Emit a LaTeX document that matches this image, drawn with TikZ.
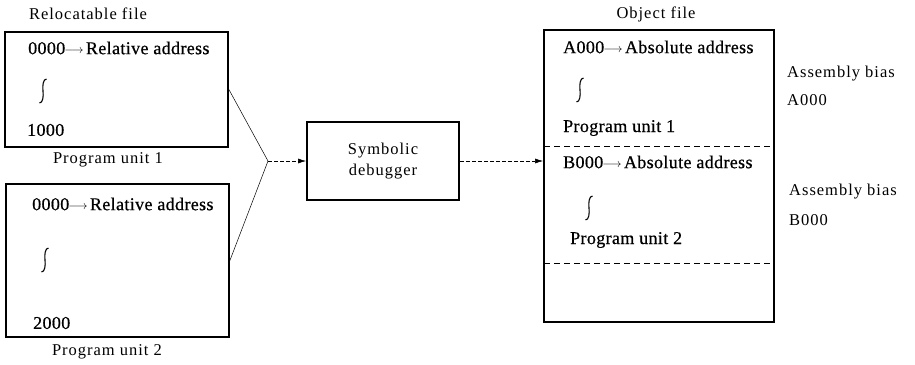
\documentclass[tikz,border=0pt]{standalone}
\usepackage{fontspec}
\setmainfont{Liberation Serif}
\newfontfamily\spacedfont[LetterSpace=6]{Liberation Serif}
\newfontfamily\heavyfont[FakeBold=0.6,LetterSpace=2]{Liberation Serif}
\usetikzlibrary{arrows.meta,calc}

\tikzset{
  filebox/.style={draw, line width=1.8pt, rectangle, inner sep=0pt},
  boxtext/.style={anchor=west, inner sep=0pt, font=\heavyfont\fontsize{18}{20}\selectfont},
  label/.style={inner sep=0pt, font=\spacedfont\fontsize{16.5}{19}\selectfont},
  link/.style={line width=0.5pt},
  flow/.style={line width=0.6pt, dash pattern=on 4pt off 2pt,
               -{Latex[length=8pt,width=5pt]}},
  divider/.style={line width=0.9pt, dash pattern=on 6pt off 4pt},
  squiggle/.style={line width=1.1pt},
}

% short arrow between an address and its meaning
\newcommand{\addrarrow}{\raisebox{0.5pt}{$\mkern-1mu\scriptstyle\longrightarrow\mkern-1mu$}\,}

% a thin upright integral-like mark meaning "and so on"
\newcommand{\skipmark}[1]{%
  \draw[squiggle] ($(#1)+(3.5,-12)$) .. controls ($(#1)+(0,-12)$) and ($(#1)+(-0.6,-5)$) .. (#1)
    .. controls ($(#1)+(0.6,5)$) and ($(#1)+(0,12)$) .. ($(#1)+(-3.5,12)$);}

\begin{document}
\begin{tikzpicture}[x=1pt, y=-1pt]
\path[use as bounding box] (0,0) rectangle (915,364);

% relocatable program units
\node[filebox, minimum width=223pt, minimum height=115pt] (unitA) at (116.5,89.5) {};
\node[filebox, minimum width=223pt, minimum height=153pt] (unitB) at (117.5,260.5) {};
\node[label] (relTitle) at (88,14) {Relocatable file};
\node[label] (unitAname) at (108,160) {Program unit 1};
\node[label] (unitBname) at (107,352) {Program unit 2};

\node[boxtext] (relA) at (28,48) {0000\addrarrow Relative address};
\coordinate (sqA) at (43,91);
\skipmark{sqA}
\node[boxtext] (endA) at (27,130) {1000};

\node[boxtext] (relB) at (32,204) {0000\addrarrow Relative address};
\coordinate (sqB) at (45,260);
\skipmark{sqB}
\node[boxtext] (endB) at (33,323) {2000};

% debugger
\node[filebox, minimum width=152pt, minimum height=78pt, align=center,
      font=\spacedfont\fontsize{16.5}{21}\selectfont] (dbg) at (383,161)
      {Symbolic\\debugger};

% object file
\node[filebox, minimum width=230pt, minimum height=292pt] (obj) at (659,176) {};
\node[label] (objTitle) at (656,14) {Object file};
\coordinate (divA) at (544,146);
\coordinate (divB) at (544,263);
\draw[divider] (divA) -- (divA -| obj.east);
\draw[divider] (divB) -- (divB -| obj.east);

\node[boxtext] (absA) at (563,47) {A000\addrarrow Absolute address};
\coordinate (sqC) at (580,90);
\skipmark{sqC}
\node[boxtext] (progA) at (563,128) {Program unit 1};

\node[boxtext] (absB) at (563,162) {B000\addrarrow Absolute address};
\coordinate (sqD) at (589,208);
\skipmark{sqD}
\node[boxtext] (progB) at (570,240) {Program unit 2};

% assembly bias notes
\node[label, anchor=west] (biasA) at (787,74) {Assembly bias};
\node[label, anchor=west] (biasAval) at (787,100) {A000};
\node[label, anchor=west] (biasB) at (789,192) {Assembly bias};
\node[label, anchor=west] (biasBval) at (789,220) {B000};

% connectors
\coordinate (join) at (268,161);
\draw[link] (unitA.east) -- (join);
\draw[link] (unitB.east) -- (join);
\draw[flow] (join) -- (dbg.west);
\draw[flow] (dbg.east) -- (dbg.east -| obj.west);
\end{tikzpicture}
\end{document}
